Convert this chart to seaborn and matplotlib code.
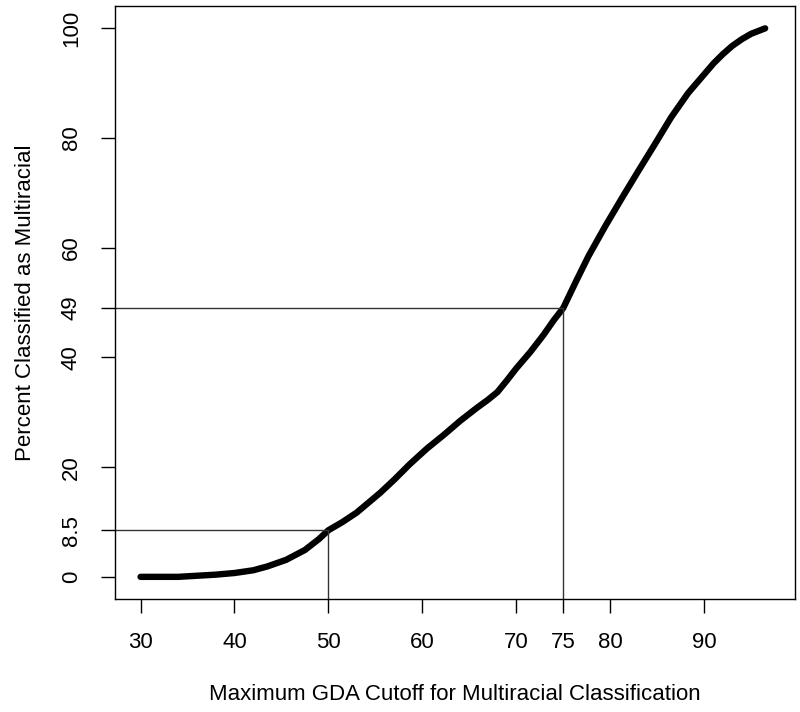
import matplotlib
matplotlib.use("Agg")
import matplotlib.pyplot as plt
import seaborn as sns
import pandas as pd

# curve
cutoff = [30, 34, 36, 38, 40, 42, 43.5, 45.5, 47.5, 49, 50, 51.5, 53, 55.5, 57, 58.7,
          60.5, 62.3, 64, 65.8, 67, 68, 69, 70, 71.5, 72.9, 74, 75, 76.4, 77.7,
          79.5, 81.3, 83, 84.8, 86.5, 88.3, 90, 91, 92, 93, 94, 95, 96.5]
pct = [0, 0, 0.2, 0.4, 0.7, 1.2, 1.9, 3.1, 4.9, 6.9, 8.5, 10.0, 11.7, 15.3, 17.7, 20.6,
       23.4, 25.9, 28.4, 30.8, 32.3, 33.7, 35.8, 38.0, 41.0, 44.1, 46.8, 49, 54, 58.5,
       64, 69.2, 74, 79, 83.8, 88.2, 91.6, 93.6, 95.3, 96.8, 98.0, 99, 100]
xticks = [30, 40, 50, 60, 70, 75, 80, 90]
yticks = [0, 8.5, 20, 40, 49, 60, 80, 100]
ytick_labels = ["0", "8.5", "20", "40", "49", "60", "80", "100"]
marks = [(50, 8.5), (75, 49)]

sns.set_style("white")
plt.rcParams['font.family'] = ['Liberation Sans', 'DejaVu Sans']
plt.rcParams['text.color'] = 'black'
plt.rcParams['axes.labelcolor'] = 'black'
plt.rcParams['xtick.color'] = 'black'
plt.rcParams['ytick.color'] = 'black'

df = pd.DataFrame({"cutoff": cutoff, "pct": pct})

fig = plt.figure(figsize=(8, 7.12), dpi=100)
ax = fig.add_axes([0.144, 0.159, 0.85, 0.832])

sns.lineplot(data=df, x="cutoff", y="pct", color="black", linewidth=4.6,
             solid_capstyle="round", solid_joinstyle="round", ax=ax)

xmin, xmax = 27.3, 99.7
ymin, ymax = -4, 104
for mx, my in marks:
    ax.plot([xmin, mx], [my, my], color="#333333", linewidth=1)
    ax.plot([mx, mx], [ymin, my], color="#333333", linewidth=1)

ax.set_xlim(xmin, xmax)
ax.set_ylim(ymin, ymax)
ax.set_xticks(xticks)
ax.set_yticks(yticks)
ax.set_yticklabels(ytick_labels, rotation=90, va="center")
ax.tick_params(axis="both", direction="out", length=10, width=1, color="black",
               labelsize=16, pad=14, left=True, bottom=True)
for s in ax.spines.values():
    s.set_color("black")
    s.set_linewidth(1)

ax.set_xlabel("Maximum GDA Cutoff for Multiracial Classification", fontsize=16, labelpad=22)
ax.set_ylabel("Percent Classified as Multiracial", fontsize=16, labelpad=18)

fig.savefig("out.png", dpi=100)
